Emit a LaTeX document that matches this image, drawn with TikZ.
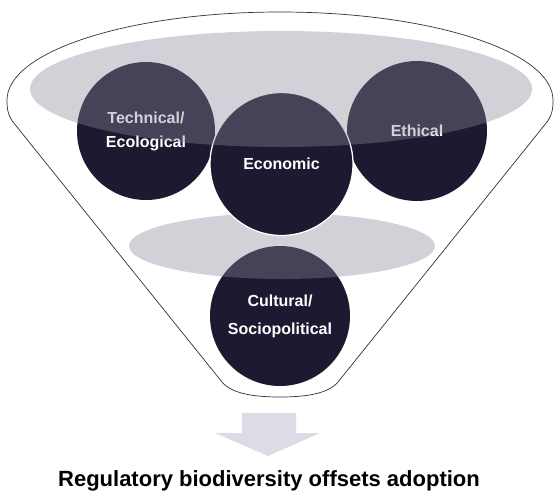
\documentclass[tikz,border=0pt]{standalone}
\usepackage{fontspec}
\setmainfont{Liberation Sans}
\definecolor{ballc}{RGB}{27,26,48}
\definecolor{veilc}{RGB}{142,134,155}
\definecolor{arrowc}{RGB}{221,219,230}
\definecolor{linec}{RGB}{50,50,55}
\begin{document}
\begin{tikzpicture}[x=1pt,y=-1pt,
  ball/.style={circle,fill=ballc,inner sep=0pt,minimum size=#1,text=white,align=center,
    font=\bfseries\fontsize{16}{24}\selectfont},
  veil/.style={fill=veilc,fill opacity=0.38},
  funnel/.style={draw=linec,line width=0.7pt,fill=white}]
\useasboundingbox[fill=white] (0,0) rectangle (555,498);
% funnel outline
\draw[funnel] (222,382) -- (13,122) .. controls (7,114) and (7,106) .. (7,100)
  arc[start angle=180,end angle=0,x radius=273pt,y radius=88pt]
  .. controls (553,106) and (553,114) .. (547,122) -- (338,382)
  .. controls (328,394) and (305,397) .. (280,397)
  .. controls (255,397) and (232,394) .. (222,382) -- cycle;
% bottom circle and its veil
\node[ball=140pt,font=\bfseries\fontsize{16}{28}\selectfont] (cult) at (280,316) {Cultural/\\Sociopolitical};
\fill[veil] (282,246) ellipse[x radius=153pt,y radius=33pt];
% top circles
\node[ball=138pt] (tech) at (146,131) {Technical/\\Ecological};
\node[ball=140pt] (eth) at (417,131) {Ethical};
\node[ball=143pt,draw=white,line width=1.3pt] (econ) at (281.5,164) {Economic};
\fill[veil] (281,89) ellipse[x radius=251pt,y radius=58pt];
% arrow
\fill[arrowc] (242,413) -- (296,413) -- (296,433) -- (320,433) -- (268,456) -- (215,433) -- (242,433) -- cycle;
\node[anchor=base,font=\bfseries\fontsize{22}{26}\selectfont] (title) at (269,486) {Regulatory biodiversity offsets adoption};
\end{tikzpicture}
\end{document}
